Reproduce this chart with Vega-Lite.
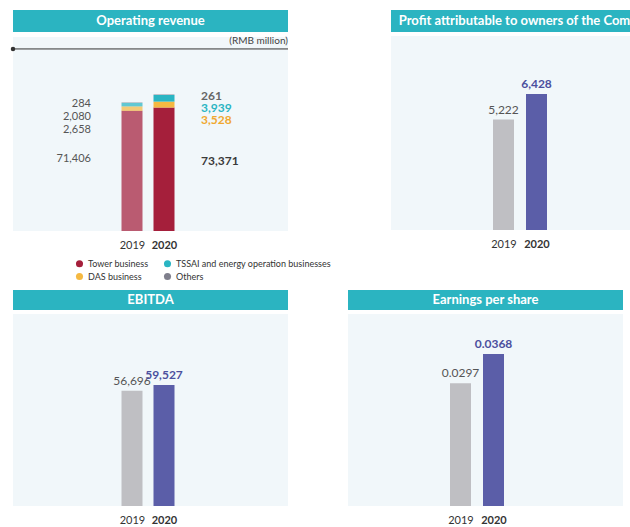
{
"$schema":"https://vega.github.io/schema/vega-lite/v6.json",
"padding":{"left":10,"top":10,"right":5,"bottom":5},
"background":"white",
"config":{"font":"Lato","view":{"stroke":null},"axis":{"labelFont":"Lato"},"legend":{"labelFont":"Lato"}},
"spacing":8,
"resolve":{"scale":{"x":"independent","y":"independent","color":"independent","opacity":"independent"},"legend":{"color":"independent","opacity":"independent"}},
"vconcat":[
{"spacing":60,"resolve":{"scale":{"x":"independent","y":"independent","color":"independent","opacity":"independent"},"legend":{"color":"independent","opacity":"independent"}},"hconcat":[
 {"spacing":4,"resolve":{"scale":{"x":"independent","y":"independent","color":"independent","opacity":"independent"}},"vconcat":[
  {"width":275,"height":22,"view":{"fill":"#2bb4c1","stroke":null},"data":{"values":[{"t":"Operating revenue"}]},"mark":{"type":"text","color":"white","fontWeight":"bold","fontSize":13},"encoding":{"text":{"field":"t"}}},
  {"width":275,"height":194,"view":{"fill":"#f1f7fa","stroke":null},
   "data":{"values":[
    {"year":"2019","seg":"Tower business","v":71406,"order":1},
    {"year":"2019","seg":"DAS business","v":2658,"order":2},
    {"year":"2019","seg":"TSSAI and energy operation businesses","v":2080,"order":3},
    {"year":"2019","seg":"Others","v":284,"order":4},
    {"year":"2020","seg":"Tower business","v":73371,"order":1},
    {"year":"2020","seg":"DAS business","v":3528,"order":2},
    {"year":"2020","seg":"TSSAI and energy operation businesses","v":3939,"order":3},
    {"year":"2020","seg":"Others","v":261,"order":4}]},
   "encoding":{"x":{"field":"year","type":"ordinal","title":null,"scale":{"type":"point","domain":["2019","2020"],"range":[103,167]},"axis":{"domain":false,"ticks":false,"labelAngle":0,"labelFontSize":11,"labelColor":"#333","labelPadding":8,"labelFontWeight":{"condition":{"test":"datum.value=='2020'","value":"bold"},"value":"normal"}}}},
   "layer":[
    {"mark":{"type":"bar","size":21},"encoding":{
      "y":{"field":"v","type":"quantitative","stack":"zero","scale":{"domain":[0,115300],"nice":false},"axis":null},
      "color":{"field":"seg","type":"nominal","scale":{"domain":["Tower business","DAS business","TSSAI and energy operation businesses","Others"],"range":["#a51f3b","#f5b942","#2ab5c3","#7f7f8c"]},"legend":{"title":null,"orient":"none","legendX":62,"legendY":222,"columns":2,"symbolType":"circle","symbolSize":50,"labelFontSize":9,"labelColor":"#333","columnPadding":14,"rowPadding":3}},
      "opacity":{"field":"year","type":"nominal","scale":{"domain":["2019","2020"],"range":[0.72,1]},"legend":null},
      "order":{"field":"order","type":"quantitative"}}},
    {"transform":[{"stack":"v","groupby":["year"],"sort":[{"field":"order"}],"as":["v0","v1"]}],
     "encoding":{"y":{"field":"v1","type":"quantitative"},"text":{"field":"v","type":"quantitative","format":","}},
     "layer":[
      {"transform":[{"filter":"datum.year=='2019' && datum.order==1"}],"mark":{"type":"text","align":"right","dx":-41,"dy":48,"fontSize":11,"color":"#555"}},
      {"transform":[{"filter":"datum.year=='2019' && datum.order==2"}],"mark":{"type":"text","align":"right","dx":-41,"dy":24,"fontSize":11,"color":"#555"}},
      {"transform":[{"filter":"datum.year=='2019' && datum.order==3"}],"mark":{"type":"text","align":"right","dx":-41,"dy":14,"fontSize":11,"color":"#555"}},
      {"transform":[{"filter":"datum.year=='2019' && datum.order==4"}],"mark":{"type":"text","align":"right","dx":-41,"dy":2,"fontSize":11,"color":"#555"}},
      {"transform":[{"filter":"datum.year=='2020' && datum.order==1"}],"mark":{"type":"text","align":"left","dx":37,"dy":53,"fontSize":12,"fontWeight":"bold","color":"#3a3a3a"}},
      {"transform":[{"filter":"datum.year=='2020' && datum.order==2"}],"mark":{"type":"text","align":"left","dx":37,"dy":18,"fontSize":12,"fontWeight":"bold","color":"#f0a830"}},
      {"transform":[{"filter":"datum.year=='2020' && datum.order==3"}],"mark":{"type":"text","align":"left","dx":37,"dy":13,"fontSize":12,"fontWeight":"bold","color":"#2ab5c3"}},
      {"transform":[{"filter":"datum.year=='2020' && datum.order==4"}],"mark":{"type":"text","align":"left","dx":37,"dy":1,"fontSize":12,"fontWeight":"bold","color":"#666"}}
     ]},
    {"data":{"values":[{}]},"mark":{"type":"rule","color":"#333"},"encoding":{"x":null,"y":{"datum":108200}}},
    {"data":{"values":[{}]},"mark":{"type":"point","filled":true,"size":20,"color":"#333","opacity":1},"encoding":{"x":{"value":0},"y":{"datum":108200}}},
    {"data":{"values":[{}]},"mark":{"type":"text","align":"right","fontSize":10,"color":"#444"},"encoding":{"x":{"value":275},"y":{"datum":112800},"text":{"value":"(RMB million)"}}}
   ]}
 ]},
 {"spacing":4,"resolve":{"scale":{"x":"independent","y":"independent","color":"independent"}},"vconcat":[
  {"width":275,"height":22,"view":{"fill":"#2bb4c1","stroke":null},"data":{"values":[{"t":"Profit attributable to owners of the Company"}]},"mark":{"type":"text","color":"white","fontWeight":"bold","fontSize":13},"encoding":{"text":{"field":"t"}}},
  {"width":275,"height":194,"view":{"fill":"#f1f7fa","stroke":null},
   "data":{"values":[{"year":"2019","v":5222},{"year":"2020","v":6428}]},
   "encoding":{"x":{"field":"year","type":"ordinal","title":null,"scale":{"type":"point","domain":["2019","2020"],"range":[96,162]},"axis":{"domain":false,"ticks":false,"labelAngle":0,"labelFontSize":11,"labelColor":"#333","labelPadding":8,"labelFontWeight":{"condition":{"test":"datum.value=='2020'","value":"bold"},"value":"normal"}}},
    "y":{"field":"v","type":"quantitative","scale":{"domain":[0,9169],"nice":false},"axis":null}},
   "layer":[
    {"mark":{"type":"bar","size":21},"encoding":{"color":{"field":"year","type":"nominal","scale":{"domain":["2019","2020"],"range":["#bfbfc3","#5b5ea8"]},"legend":null}}},
    {"transform":[{"filter":"datum.year=='2019'"}],"mark":{"type":"text","dy":-10,"fontSize":12,"color":"#555"},"encoding":{"text":{"field":"v","type":"quantitative","format":","}}},
    {"transform":[{"filter":"datum.year=='2020'"}],"mark":{"type":"text","dy":-10,"fontSize":12,"fontWeight":"bold","color":"#4b4f9e"},"encoding":{"text":{"field":"v","type":"quantitative","format":","}}},
    {"data":{"values":[{}]},"mark":{"type":"rule","color":"#333"},"encoding":{"x":null,"y":{"datum":8601}}},
    {"data":{"values":[{}]},"mark":{"type":"point","filled":true,"size":20,"color":"#333","opacity":1},"encoding":{"x":{"value":0},"y":{"datum":8601}}},
    {"data":{"values":[{}]},"mark":{"type":"text","align":"right","fontSize":10,"color":"#444"},"encoding":{"x":{"value":275},"y":{"datum":8980},"text":{"value":"(RMB million)"}}}
   ]}
 ]}
]},
{"spacing":60,"resolve":{"scale":{"x":"independent","y":"independent","color":"independent"}},"hconcat":[
 {"spacing":4,"resolve":{"scale":{"x":"independent","y":"independent","color":"independent"}},"vconcat":[
  {"width":275,"height":20,"view":{"fill":"#2bb4c1","stroke":null},"data":{"values":[{"t":"EBITDA"}]},"mark":{"type":"text","color":"white","fontWeight":"bold","fontSize":13},"encoding":{"text":{"field":"t"}}},
  {"width":275,"height":192,"view":{"fill":"#f1f7fa","stroke":null},
   "data":{"values":[{"year":"2019","v":56696},{"year":"2020","v":59527}]},
   "encoding":{"x":{"field":"year","type":"ordinal","title":null,"scale":{"type":"point","domain":["2019","2020"],"range":[103,167]},"axis":{"domain":false,"ticks":false,"labelAngle":0,"labelFontSize":11,"labelColor":"#333","labelPadding":8,"labelFontWeight":{"condition":{"test":"datum.value=='2020'","value":"bold"},"value":"normal"}}},
    "y":{"field":"v","type":"quantitative","scale":{"domain":[0,94450],"nice":false},"axis":null}},
   "layer":[
    {"mark":{"type":"bar","size":21},"encoding":{"color":{"field":"year","type":"nominal","scale":{"domain":["2019","2020"],"range":["#bfbfc3","#5b5ea8"]},"legend":null}}},
    {"transform":[{"filter":"datum.year=='2019'"}],"mark":{"type":"text","dy":-10,"fontSize":12,"color":"#555"},"encoding":{"text":{"field":"v","type":"quantitative","format":","}}},
    {"transform":[{"filter":"datum.year=='2020'"}],"mark":{"type":"text","dy":-10,"fontSize":12,"fontWeight":"bold","color":"#4b4f9e"},"encoding":{"text":{"field":"v","type":"quantitative","format":","}}},
    {"data":{"values":[{}]},"mark":{"type":"rule","color":"#333"},"encoding":{"x":null,"y":{"datum":87560}}},
    {"data":{"values":[{}]},"mark":{"type":"point","filled":true,"size":20,"color":"#333","opacity":1},"encoding":{"x":{"value":0},"y":{"datum":87560}}},
    {"data":{"values":[{}]},"mark":{"type":"text","align":"right","fontSize":10,"color":"#444"},"encoding":{"x":{"value":275},"y":{"datum":91990},"text":{"value":"(RMB million)"}}}
   ]}
 ]},
 {"spacing":4,"resolve":{"scale":{"x":"independent","y":"independent","color":"independent"}},"vconcat":[
  {"width":275,"height":20,"view":{"fill":"#2bb4c1","stroke":null},"data":{"values":[{"t":"Earnings per share"}]},"mark":{"type":"text","color":"white","fontWeight":"bold","fontSize":13},"encoding":{"text":{"field":"t"}}},
  {"width":275,"height":192,"view":{"fill":"#f1f7fa","stroke":null},
   "data":{"values":[{"year":"2019","v":0.0297},{"year":"2020","v":0.0368}]},
   "encoding":{"x":{"field":"year","type":"ordinal","title":null,"scale":{"type":"point","domain":["2019","2020"],"range":[96,162]},"axis":{"domain":false,"ticks":false,"labelAngle":0,"labelFontSize":11,"labelColor":"#333","labelPadding":8,"labelFontWeight":{"condition":{"test":"datum.value=='2020'","value":"bold"},"value":"normal"}}},
    "y":{"field":"v","type":"quantitative","scale":{"domain":[0,0.04649],"nice":false},"axis":null}},
   "layer":[
    {"mark":{"type":"bar","size":21},"encoding":{"color":{"field":"year","type":"nominal","scale":{"domain":["2019","2020"],"range":["#bfbfc3","#5b5ea8"]},"legend":null}}},
    {"transform":[{"filter":"datum.year=='2019'"}],"mark":{"type":"text","dy":-10,"fontSize":12,"color":"#555"},"encoding":{"text":{"field":"v","type":"quantitative","format":".4f"}}},
    {"transform":[{"filter":"datum.year=='2020'"}],"mark":{"type":"text","dy":-10,"fontSize":12,"fontWeight":"bold","color":"#4b4f9e"},"encoding":{"text":{"field":"v","type":"quantitative","format":".4f"}}},
    {"data":{"values":[{}]},"mark":{"type":"rule","color":"#333"},"encoding":{"x":null,"y":{"datum":0.0431}}},
    {"data":{"values":[{}]},"mark":{"type":"point","filled":true,"size":20,"color":"#333","opacity":1},"encoding":{"x":{"value":0},"y":{"datum":0.0431}}},
    {"data":{"values":[{}]},"mark":{"type":"text","align":"right","fontSize":10,"color":"#444"},"encoding":{"x":{"value":275},"y":{"datum":0.04528},"text":{"value":"(RMB Yuan)"}}}
   ]}
 ]}
]}
]}
